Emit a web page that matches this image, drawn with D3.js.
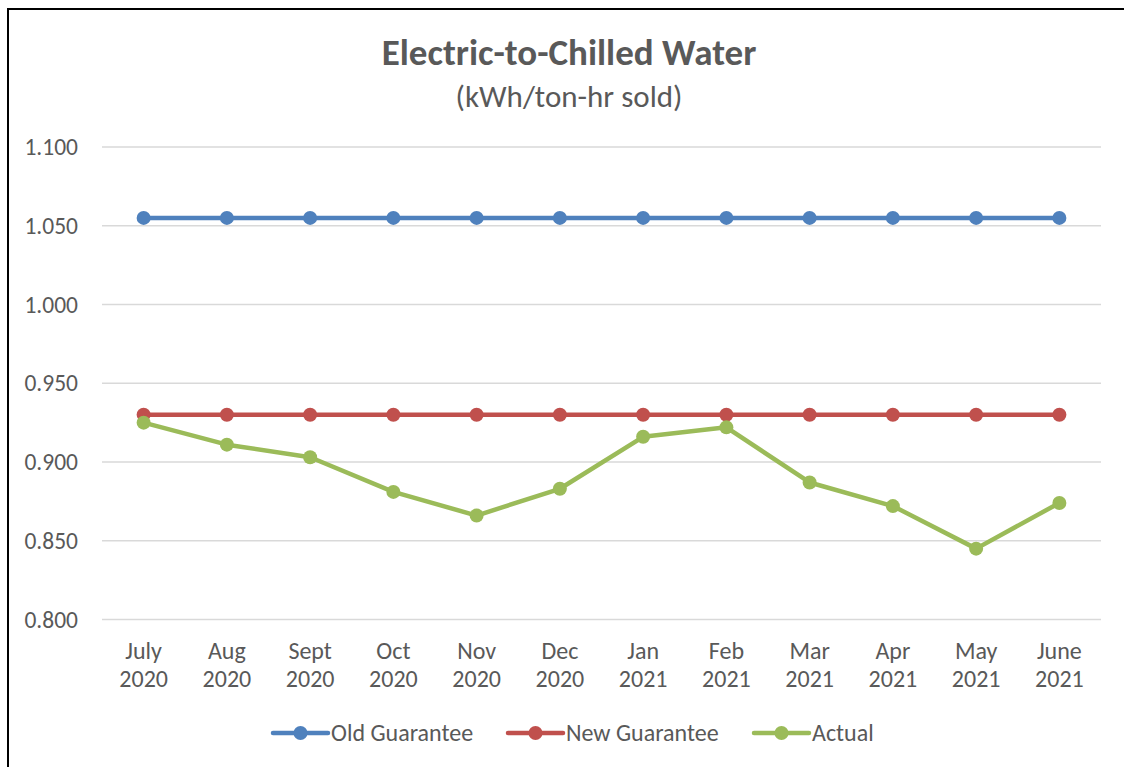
<!DOCTYPE html>
<html><head><meta charset="utf-8">
<script src="https://cdn.jsdelivr.net/npm/d3@7/dist/d3.min.js"></script>
<style>body{margin:0;background:#fff}svg{display:block}</style>
</head><body>
<svg id="c" width="1124" height="767"></svg>
<script>
const months = ["July","Aug","Sept","Oct","Nov","Dec","Jan","Feb","Mar","Apr","May","June"];
const years = ["2020","2020","2020","2020","2020","2020","2021","2021","2021","2021","2021","2021"];
const oldGuarantee = [1.055,1.055,1.055,1.055,1.055,1.055,1.055,1.055,1.055,1.055,1.055,1.055];
const newGuarantee = [0.930,0.930,0.930,0.930,0.930,0.930,0.930,0.930,0.930,0.930,0.930,0.930];
const actual = [0.925,0.911,0.903,0.881,0.866,0.883,0.916,0.922,0.887,0.872,0.845,0.874];
const yTicks = [0.800,0.850,0.900,0.950,1.000,1.050,1.100];
const seriesNames = ["Old Guarantee","New Guarantee","Actual"];
const colors = ["#4f81bd","#c0504d","#9bbb59"];

const font = "Carlito, Lato, 'Open Sans', sans-serif";
const svg = d3.select("#c");
svg.append("rect").attr("x",8).attr("y",9).attr("width",1130).attr("height",780)
  .attr("fill","#fff").attr("stroke","#000").attr("stroke-width",2);

const x = d3.scaleBand().domain(d3.range(months.length)).range([102,1101]);
const y = d3.scaleLinear().domain([0.8,1.1]).range([619.5,147]);

svg.append("g").selectAll("line").data(yTicks).join("line")
  .attr("x1",102).attr("x2",1101).attr("y1",d=>y(d)).attr("y2",d=>y(d))
  .attr("stroke","#d9d9d9").attr("stroke-width",1.5);

const yAxis = d3.axisLeft(y).tickValues(yTicks).tickFormat(d3.format(".3f")).tickSize(0).tickPadding(24);
const ya = svg.append("g").attr("transform","translate(102,0)").call(yAxis);
ya.select(".domain").remove();
ya.selectAll("text").attr("fill","#595959").style("font-family",font).style("font-size","23.5px");

const xAxis = d3.axisBottom(x).tickSize(0).tickFormat(()=>"");
const xa = svg.append("g").attr("transform","translate(0,619.5)").call(xAxis);
xa.select(".domain").remove();
xa.selectAll(".tick").each(function(d){
  const t = d3.select(this).append("text").attr("text-anchor","middle")
    .attr("fill","#595959").style("font-family",font).style("font-size","24px");
  t.append("tspan").attr("x",0).attr("y",39).text(months[d]);
  t.append("tspan").attr("x",0).attr("y",67).text(years[d]);
});

const cx = i => x(i) + x.bandwidth()/2;
const data = [oldGuarantee,newGuarantee,actual];
const line = d3.line().x((d,i)=>cx(i)).y(d=>y(d));
data.forEach((s,k)=>{
  svg.append("path").datum(s).attr("d",line).attr("fill","none")
    .attr("stroke",colors[k]).attr("stroke-width",4.5).attr("stroke-linejoin","round");
  svg.append("g").selectAll("circle").data(s).join("circle")
    .attr("cx",(d,i)=>cx(i)).attr("cy",d=>y(d)).attr("r",7).attr("fill",colors[k]);
});

svg.append("text").attr("x",569).attr("y",65).attr("text-anchor","middle")
  .attr("fill","#595959").style("font-family",font).style("font-size","37px").style("font-weight","bold")
  .text("Electric-to-Chilled Water");
svg.append("text").attr("x",569).attr("y",107).attr("text-anchor","middle")
  .attr("fill","#595959").style("font-family",font).style("font-size","31px")
  .text("(kWh/ton-hr sold)");

const legX = [273,508,754];
const lg = svg.append("g");
seriesNames.forEach((n,k)=>{
  const g = lg.append("g").attr("transform",`translate(${legX[k]},733)`);
  g.append("line").attr("x1",0).attr("x2",55).attr("y1",0).attr("y2",0)
    .attr("stroke",colors[k]).attr("stroke-width",4.5).attr("stroke-linecap","round");
  g.append("circle").attr("cx",27.5).attr("cy",0).attr("r",7).attr("fill",colors[k]);
  g.append("text").attr("x",58).attr("y",8).attr("fill","#595959")
    .style("font-family",font).style("font-size","24px").text(n);
});
</script>
</body></html>
